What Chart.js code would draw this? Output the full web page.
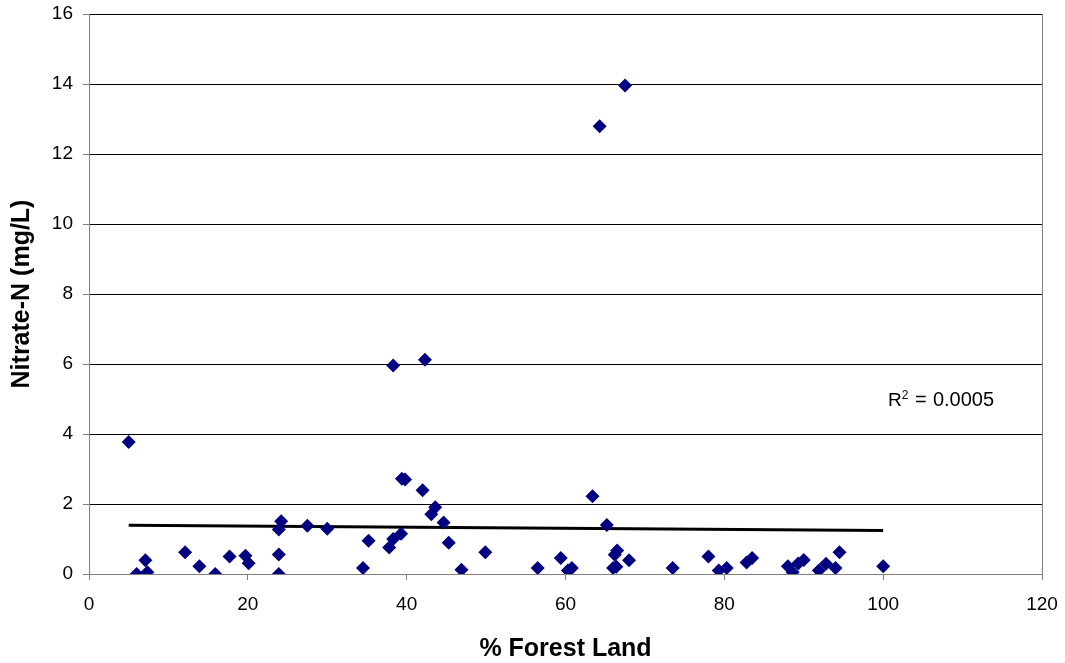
<!DOCTYPE html>
<html>
<head>
<meta charset="utf-8">
<script src="https://cdn.jsdelivr.net/npm/chart.js@4.4.1/dist/chart.umd.min.js"></script>
<style>
  html, body { margin: 0; padding: 0; background: #fff; }
  #wrap { width: 1065px; height: 663px; }
</style>
</head>
<body>
<div id="wrap"><canvas id="nitrateChart" width="1065" height="663"></canvas></div>
<script>
// % forest land in the watershed vs measured nitrate-N
const forestPct = [
  5.0, 6.0, 7.1, 7.35, 12.1, 13.9, 15.9, 17.7, 19.7, 20.1,
  23.9, 23.9, 23.9, 24.2, 27.5, 30.0, 34.5, 35.2, 37.8, 38.3,
  38.3, 39.3, 39.4, 39.8, 42.0, 42.3, 43.1, 43.6, 44.65, 45.3,
  46.9, 49.9, 56.5, 59.4, 60.3, 60.8, 63.4, 64.3, 65.2, 66.0,
  66.4, 66.2, 66.5, 67.5, 68.0, 73.5, 78.0, 79.3, 80.3, 82.8,
  83.5, 88.0, 88.6, 89.3, 90.0, 91.9, 92.8, 94.0, 94.5, 100.0
];
const nitrate = [
  3.77, 0.0, 0.39, 0.05, 0.62, 0.22, 0.0, 0.5, 0.52, 0.31,
  0.0, 0.56, 1.27, 1.51, 1.38, 1.29, 0.17, 0.95, 0.76, 1.0,
  5.96, 1.15, 2.72, 2.7, 2.39, 6.12, 1.71, 1.91, 1.47, 0.89,
  0.12, 0.62, 0.17, 0.46, 0.1, 0.17, 2.22, 12.79, 1.4, 0.17,
  0.21, 0.55, 0.67, 13.96, 0.39, 0.17, 0.5, 0.1, 0.17, 0.33,
  0.46, 0.22, 0.05, 0.3, 0.4, 0.1, 0.29, 0.17, 0.62, 0.22
];

// linear trendline end points (as shown on the chart)
const trendX = [5, 100];
const trendY = [1.39, 1.24];
const rSquared = "0.0005";

const points = forestPct.map((x, i) => ({ x: x, y: nitrate[i] }));
const trend = trendX.map((x, i) => ({ x: x, y: trendY[i] }));

const FONT = "'Liberation Sans', Arial, sans-serif";

// right edge of plot area + R² label
const extras = {
  id: "extras",
  beforeDatasetsDraw(chart) {
    const { ctx, chartArea } = chart;
    ctx.save();
    ctx.strokeStyle = "#808080";
    ctx.lineWidth = 1;
    ctx.beginPath();
    ctx.moveTo(chartArea.right + 0.5, chartArea.top);
    ctx.lineTo(chartArea.right + 0.5, chartArea.bottom);
    ctx.stroke();
    ctx.restore();
  },
  afterDraw(chart) {
    const { ctx, scales } = chart;
    const x0 = scales.x.getPixelForValue(100.6);
    const y0 = scales.y.getPixelForValue(4.81);
    ctx.save();
    ctx.fillStyle = "#000";
    ctx.textBaseline = "alphabetic";
    ctx.textAlign = "left";
    ctx.font = "19px " + FONT;
    ctx.fillText("R", x0, y0);
    const w = ctx.measureText("R").width;
    ctx.font = "12px " + FONT;
    ctx.fillText("2", x0 + w, y0 - 7);
    ctx.font = "20px " + FONT;
    ctx.fillText("=", x0 + 27, y0);
    ctx.fillText(rSquared, x0 + 45, y0);
    ctx.restore();
  }
};

const ctx = document.getElementById("nitrateChart").getContext("2d");
new Chart(ctx, {
  type: "scatter",
  data: {
    datasets: [
      {
        label: "Nitrate-N",
        data: points,
        pointStyle: "rectRot",
        pointRadius: 7,
        pointHoverRadius: 7,
        backgroundColor: "#000080",
        borderColor: "#000080",
        borderWidth: 0
      },
      {
        label: "Linear",
        type: "line",
        data: trend,
        showLine: true,
        borderColor: "#000",
        borderWidth: 3,
        pointRadius: 0,
        fill: false
      }
    ]
  },
  options: {
    responsive: false,
    animation: false,
    layout: { padding: { top: 14, right: 23, left: 0, bottom: 0 } },
    plugins: {
      legend: { display: false },
      tooltip: { enabled: false }
    },
    scales: {
      x: {
        type: "linear",
        min: 0,
        max: 120,
        afterFit: (s) => {
          s.height = 89;
          s.paddingLeft = 0;
          s.paddingRight = 0;
        },
        ticks: {
          stepSize: 20,
          padding: 13,
          color: "#000",
          font: { family: FONT, size: 19 }
        },
        grid: {
          drawOnChartArea: false,
          drawTicks: true,
          tickLength: 6,
          tickColor: "#808080"
        },
        border: { color: "#808080", width: 1 },
        title: {
          display: true,
          text: "% Forest Land",
          color: "#000",
          font: { family: FONT, size: 25, weight: "bold", lineHeight: 1 },
          padding: { top: 0, bottom: 1 }
        }
      },
      y: {
        min: 0,
        max: 16,
        afterFit: (s) => {
          s.width = 89;
          s.paddingTop = 0;
          s.paddingBottom = 0;
        },
        ticks: {
          stepSize: 2,
          padding: 10,
          color: "#000",
          font: { family: FONT, size: 19 }
        },
        grid: {
          color: "#000",
          lineWidth: 1,
          tickLength: 6,
          tickColor: "#808080"
        },
        border: { color: "#808080", width: 1 },
        title: {
          display: true,
          text: "Nitrate-N (mg/L)",
          color: "#000",
          font: { family: FONT, size: 25, weight: "bold", lineHeight: 1 },
          padding: { top: 10, bottom: 0 }
        }
      }
    }
  },
  plugins: [extras]
});
</script>
</body>
</html>
